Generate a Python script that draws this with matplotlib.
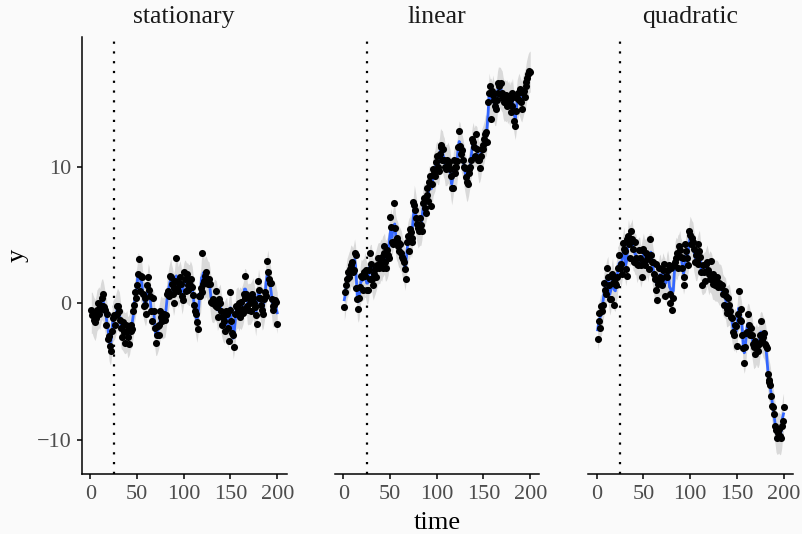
import numpy as np
import pandas as pd
import matplotlib
matplotlib.use('Agg')
import matplotlib.pyplot as plt

# values, one per time step (t = 1..200)
panels = ['stationary', 'linear', 'quadratic']

y_stationary = [
    -0.5, -0.9, -0.7, -1.2, -1.4, -1.1, -0.5, 0.0, -0.8, -0.1, -0.4, 0.4, 0.7, -0.2,
    -0.3, -0.5, -1.6, -0.8, -2.6, -2.4, -3.1, -3.5, -2.0, -1.1, -0.9, -1.6, -0.9, -0.2,
    -0.8, -0.2, -0.6, -1.2, -1.8, -2.5, -1.4, -2.1, -2.9, -1.6, -2.0, -2.5, -3.0, -1.7,
    -2.0, -1.6, -1.9, -0.6, -0.1, 0.8, 0.4, 1.3, 2.1, 3.2, 0.9, 2.0, 1.9, 0.7,
    -0.2, 0.4, -0.1, -0.8, 1.3, 1.9, 1.0, 0.5, -0.6, -1.3, 0.4, -0.6, -1.8, -2.9,
    -2.3, -1.7, -2.3, -1.6, -0.6, -1.0, -1.3, -1.1, -0.8, -1.2, -0.9, 0.7, 0.9, 0.5,
    2.0, 1.9, 1.4, 0.7, 1.1, 0.0, 1.6, 3.3, 1.1, 0.9, 1.5, 1.9, 1.4, 0.5,
    0.2, 2.3, 1.8, 0.9, 2.1, 1.3, 1.0, 1.7, 1.3, 1.8, 1.2, 0.6, -0.1, -0.6,
    -0.8, -1.4, -1.9, 0.5, 0.5, 1.1, 0.8, 3.7, 1.4, 1.6, 2.0, 2.3, 1.5, 1.4,
    1.8, 1.4, 0.1, 0.0, 0.3, 0.0, -0.1, 0.9, -0.2, -0.3, -1.0, 0.3, 0.0, -0.6, -1.6,
    -1.0, -1.3, -2.0, -0.6, -0.8, -1.8, -2.8, 0.8, -0.5, -1.3, -2.2, -2.3, -3.2, -0.8,
    -0.2, -0.3, -0.6, 0.0, -1.0, 0.1, -0.4, -0.7, 0.7, 0.4, 2.0, 0.7, -0.2, -0.5, 0.4,
    0.0, -0.6, 0.7, 0.4, 0.0, -0.3, -0.9, -1.5, 1.6, 1.0, 0.4, 0.4, -0.1, -0.5,
    -0.8, 0.3, 0.8, 0.5, 3.1, 2.3, 1.8, 1.5, 1.5, 0.3, -0.2, -0.5, -0.1, 0.2, 0.1, -1.5,
]

y_linear = [
    -0.3, 0.8, 1.3, 1.8, 2.3, 1.9, 2.5, 2.8, 3.0, 2.3, 2.4, 3.7, 3.5, 1.1,
    0.3, -0.4, 0.4, 1.2, 2.0, 1.9, 1.0, 2.3, 2.0, 2.4, 1.0, 1.0, 2.4, 1.8,
    3.7, 2.9, 1.8, 1.3, 2.1, 2.5, 1.9, 2.8, 3.3, 2.6, 2.9, 3.3, 3.4, 2.6,
    4.2, 3.7, 3.0, 2.6, 3.9, 3.5, 3.3, 6.3, 5.6, 4.5, 4.3, 7.3, 5.5, 4.6,
    4.8, 4.5, 4.2, 3.8, 4.3, 3.7, 3.4, 3.2, 3.0, 2.5, 1.8, 4.5, 4.9, 3.8,
    5.4, 5.2, 4.8, 4.5, 7.4, 7.2, 6.8, 6.2, 5.8, 5.5, 5.3, 6.2, 5.7, 5.3,
    7.3, 7.7, 7.0, 6.6, 8.4, 7.9, 7.5, 8.9, 9.3, 7.1, 8.7, 9.8, 9.5, 9.3,
    10.3, 10.8, 10.0, 9.7, 10.9, 11.4, 11.6, 10.5, 11.3, 10.5, 10.0, 9.8, 10.5, 10.1,
    10.3, 9.8, 9.3, 8.4, 8.4, 10.5, 10.0, 9.5, 10.0, 10.4, 11.4, 12.6, 11.5, 10.9,
    11.2, 10.5, 10.0, 9.9, 9.2, 8.9, 8.7, 9.5, 9.8, 10.0, 10.5, 12.0, 11.8, 11.4,
    10.8, 12.4, 11.3, 10.5, 10.5, 9.9, 10.8, 11.3, 11.6, 11.3, 12.0, 12.4, 12.5, 11.8,
    14.7, 15.4, 15.9, 13.5, 15.5, 15.2, 14.9, 14.4, 14.2, 14.9, 15.4, 16.1, 15.9, 15.3,
    16.1, 15.4, 15.0, 14.7, 14.7, 15.2, 14.4, 15.0, 14.5, 14.9, 14.0, 15.4, 14.4, 15.1,
    13.3, 13.0, 14.1, 15.0, 15.4, 14.9, 15.7, 14.7, 14.2, 15.4, 15.5, 15.1,
    15.9, 16.2, 16.5, 16.8, 17.0, 16.9,
]

y_quadratic = [
    -2.6, -1.3, -0.7, -1.8, -0.2, -0.6, -0.1, 1.5, 1.0, 0.7, 2.6, 1.9, 1.3, 0.3,
    0.3, 2.1, 1.9, 1.5, -0.1, 1.5, 1.3, 1.9, 2.6, 3.5, 2.6, 2.9, 2.1, 4.4,
    4.0, 3.8, 2.5, 2.0, 4.7, 4.9, 4.3, 3.3, 5.3, 4.7, 4.0, 3.0, 4.5, 3.3,
    2.9, 2.8, 3.9, 3.3, 2.8, 1.9, 3.9, 4.0, 3.0, 2.8, 3.7, 3.2, 3.5, 2.5,
    4.7, 3.5, 3.0, 3.0, 2.1, 1.8, 1.0, 2.9, 0.2, 1.4, 2.6, 1.9, 1.8, 1.3,
    2.4, 2.9, 0.5, 2.0, 1.9, 2.4, 2.8, 0.7, 0.0, 2.6, -0.5, 0.4, 2.8, 3.0,
    3.3, 3.7, 2.6, 4.2, 3.9, 3.4, 2.6, 3.3, 1.9, 1.3, 4.3, 3.8, 3.3, 2.8,
    5.3, 5.0, 4.3, 4.8, 4.5, 4.0, 3.0, 3.5, 3.0, 2.9, 4.3, 3.8, 3.4,
    2.3, 1.3, 2.8, 2.3, 1.6, 2.9, 3.0, 2.4, 2.1, 1.8, 3.1, 1.9, 1.4,
    2.1, 1.8, 1.3, 1.8, 1.9, 1.2, 1.5, 1.4, 1.2, 1.3, 0.7, -0.1, 0.9,
    0.5, -0.4, -0.7, 0.4, -0.1, -0.6, -1.0, -1.1, -2.1, -2.3, -1.6, -1.7, -3.1, -0.8,
    0.9, -1.2, -1.3, -0.4, -2.3, -3.3, -4.4, -3.2, -2.2, -2.1, -0.8, -1.6, -2.3,
    -1.8, -2.3, -3.0, -3.2, -3.7, -2.8, -3.0, -3.1, -3.5, -3.0, -2.3, -1.3, -2.7, -2.5,
    -2.2, -3.0, -3.1, -3.3, -5.2, -5.6, -5.8, -6.0, -6.8, -7.5,
    -7.6, -8.1, -9.0, -9.3, -9.9, -9.5, -9.2, -9.7, -9.9, -9.0, -8.6, -7.6,
]

series = [y_stationary, y_linear, y_quadratic]
xticks = [0, 50, 100, 150, 200]
yticks = [-10, 0, 10]
change_point = 25
band = 1.5

bg = '#fafafa'
plt.rcParams['font.family'] = ['Liberation Serif', 'DejaVu Serif']

W, H = 803, 534
fig = plt.figure(figsize=(W / 100, H / 100), dpi=100, facecolor=bg)

lefts = [82, 335, 588.3]
pw, top, bottom = 204.5, 37.4, 474

for i, (name, y) in enumerate(zip(panels, series)):
    ax = fig.add_axes([lefts[i] / W, 1 - bottom / H, pw / W, (bottom - top) / H])
    ax.set_facecolor(bg)
    t = np.arange(1, len(y) + 1)
    fit = pd.Series(y).rolling(3, center=True, min_periods=1).mean().values

    ax.axvline(change_point, color='black', lw=1.6, ls=(0, (1, 3.4)), zorder=1)
    ax.fill_between(t, fit - band, fit + band, color='#d9d9d9', lw=0, zorder=2)
    ax.plot(t, fit, color='#3366ff', lw=2.0, zorder=3)
    ax.scatter(t, y, s=26, color='black', lw=0, zorder=4)

    ax.set_xlim(-8.95, 209.95)
    ax.set_ylim(-12.5, 19.45)
    ax.set_xticks(xticks)
    ax.set_yticks(yticks)

    for s in ['top', 'right']:
        ax.spines[s].set_visible(False)
    ax.spines['bottom'].set_linewidth(1.1)
    ax.tick_params(axis='both', length=3.6, width=1.1, color='black',
                   labelsize=16, labelcolor='#4d4d4d', pad=4)
    if i == 0:
        ax.spines['left'].set_linewidth(1.1)
    else:
        ax.spines['left'].set_visible(False)
        ax.tick_params(axis='y', left=False, labelleft=False)

    fig.text((lefts[i] + pw / 2) / W, 1 - 23.3 / H, name, ha='center',
             va='baseline', fontsize=18.5, color='#1a1a1a')

fig.text(18 / W, 1 - (top + bottom) / 2 / H, 'y', rotation=90, ha='center',
         va='center', fontsize=19)
fig.text((82 + 792.7) / 2 / W, 1 - 529 / H, 'time', ha='center', va='baseline',
         fontsize=19)

fig.savefig('out.png', dpi=100, facecolor=bg)
